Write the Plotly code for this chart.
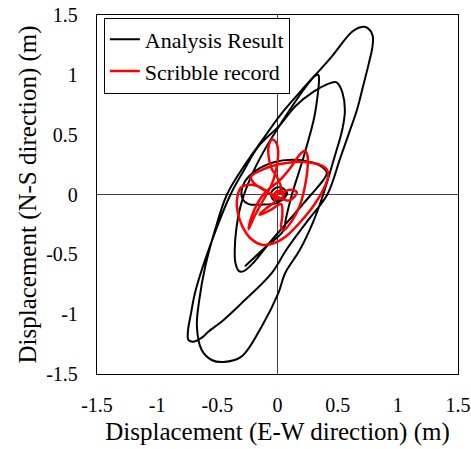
import plotly.graph_objects as go

# Analysis Result (black) – E-W (x) and N-S (y) displacement, m
# None separates the two recorded passes
analysis_x = [0.00, 0.04, 0.08, 0.03, -0.04, -0.05, 0.00, 0.06, 0.05, 0.00,
              -0.13, -0.24, -0.29, -0.30, -0.27, -0.18, -0.03, 0.12, 0.28, 0.37, 0.41,
              0.38, 0.28, 0.10, -0.08, -0.20, -0.28, -0.32,
              -0.35, -0.355, -0.34, -0.30, -0.22, -0.12, 0.00, 0.13, 0.25, 0.31, 0.34,
              0.345, 0.33, 0.30, 0.21, 0.12, 0.07, 0.05,
              -0.11, -0.27,
              None,
              0.48, 0.42, 0.30, 0.15, 0.02, -0.16, -0.28, -0.39, -0.55, -0.68, -0.72,
              -0.745, -0.74, -0.70, -0.62, -0.575, -0.45, -0.30, -0.05, 0.075, 0.25,
              0.414, 0.52, 0.60, 0.66, 0.71, 0.76, 0.79, 0.79, 0.75, 0.70, 0.62,
              0.44, 0.19, 0.02, -0.13, -0.27, -0.42, -0.52, -0.60, -0.65, -0.67,
              -0.63, -0.547, -0.45, -0.30, -0.13, 0.007, 0.062, 0.187, 0.30, 0.38,
              0.47, 0.54, 0.56, 0.54, 0.50, 0.48]
analysis_y = [0.00, 0.05, 0.01, -0.05, -0.04, 0.02, 0.06, 0.04, -0.03, -0.07,
              -0.085, -0.08, -0.04, 0.02, 0.11, 0.20, 0.27, 0.29, 0.27, 0.23, 0.18,
              0.12, 0.00, -0.21, -0.42, -0.57, -0.64, -0.64,
              -0.57, -0.45, -0.27, -0.07, 0.15, 0.35, 0.55, 0.75, 0.92, 0.99, 1.00,
              0.96, 0.80, 0.62, 0.29, 0.00, -0.20, -0.30,
              -0.45, -0.60,
              None,
              0.94, 0.925, 0.86, 0.74, 0.58, 0.40, 0.20, 0.00, -0.40, -0.80, -1.00,
              -1.15, -1.215, -1.23, -1.19, -1.146, -1.05, -0.91, -0.66, -0.46, -0.22,
              0.00, 0.30, 0.53, 0.706, 0.90, 1.10, 1.24, 1.33, 1.39, 1.40, 1.36,
              1.14, 0.86, 0.66, 0.45, 0.25, 0.00, -0.30, -0.60, -0.88, -1.10,
              -1.30, -1.383, -1.40, -1.355, -1.10, -0.825, -0.66, -0.46, -0.22, 0.00,
              0.30, 0.55, 0.706, 0.85, 0.93, 0.94]

# Scribble record (red)
scribble_x = [0.00, 0.03, 0.05, 0.01, -0.03, 0.00, 0.04,
              0.01, -0.05, -0.075, -0.07, -0.045, -0.015, 0.005, 0.00, -0.02, -0.05,
              -0.12, -0.19, -0.24, -0.22, -0.17, -0.10,
              0.02, 0.12, 0.19, 0.23, 0.25, 0.25, 0.23, 0.19, 0.12, 0.05, 0.03, 0.04, 0.03,
              -0.06, -0.15, -0.10, -0.02,
              -0.08, -0.20, -0.30, -0.335, -0.33, -0.29, -0.22, -0.13, -0.04, 0.07, 0.19,
              0.31, 0.39, 0.42, 0.41, 0.35, 0.25, 0.12, 0.00, -0.12, -0.22,
              -0.20, -0.10, 0.00, 0.10, 0.16, 0.10, 0.03]
scribble_y = [0.00, 0.03, -0.01, -0.04, -0.01, 0.03, 0.00,
              0.12, 0.22, 0.33, 0.42, 0.46, 0.44, 0.37, 0.27, 0.17, 0.08,
              -0.05, -0.18, -0.29, -0.20, -0.08, 0.02,
              0.12, 0.24, 0.34, 0.365, 0.32, 0.22, 0.08, -0.08, -0.22, -0.30, -0.27, -0.18, -0.08,
              -0.13, -0.17, -0.12, -0.05,
              0.02, 0.08, 0.06, -0.03, -0.15, -0.27, -0.37, -0.42, -0.41, -0.35, -0.23,
              -0.08, 0.06, 0.15, 0.21, 0.25, 0.27, 0.27, 0.25, 0.21, 0.15,
              0.10, 0.03, -0.02, -0.05, 0.02, 0.04, 0.00]

tick_vals = [-1.5, -1, -0.5, 0, 0.5, 1, 1.5]
tick_text = ["-1.5", "-1", "-0.5", "0", "0.5", "1", "1.5"]

FONT = "Liberation Serif"

fig = go.Figure()
fig.add_trace(go.Scatter(x=analysis_x, y=analysis_y, mode="lines",
                         name="Analysis Result", connectgaps=False,
                         line=dict(color="black", width=2, shape="spline")))
fig.add_trace(go.Scatter(x=scribble_x, y=scribble_y, mode="lines",
                         name="Scribble record",
                         line=dict(color="#ff0000", width=2.5, shape="spline")))

axis_common = dict(range=[-1.5, 1.5], tickvals=tick_vals, ticktext=tick_text,
                   showgrid=False, zeroline=True, zerolinecolor="#404040",
                   zerolinewidth=1.3, showline=True, linecolor="black",
                   linewidth=1.3, mirror=True, ticks="", automargin=False,
                   ticklabeloverflow="allow",
                   tickfont=dict(family=FONT, size=20, color="black"))

fig.update_layout(
    template="none",
    width=471, height=449,
    margin=dict(l=97, r=13, t=15, b=75),
    paper_bgcolor="white", plot_bgcolor="white",
    font=dict(family=FONT, color="black", size=20),
    showlegend=True,
    legend=dict(x=0.019, y=0.993, xanchor="left", yanchor="top",
                bgcolor="white", bordercolor="black", borderwidth=1,
                font=dict(family=FONT, size=22, color="black"),
                tracegroupgap=0),
    xaxis=dict(**axis_common, ticklabelstandoff=13,
               title=dict(text="Displacement (E-W direction) (m)",
                          font=dict(family=FONT, size=25, color="black"),
                          standoff=7)),
    yaxis=dict(**axis_common, ticklabelstandoff=14,
               title=dict(text="Displacement (N-S direction) (m)",
                          font=dict(family=FONT, size=25, color="black"),
                          standoff=2)),
)

fig.write_html("out.html")
